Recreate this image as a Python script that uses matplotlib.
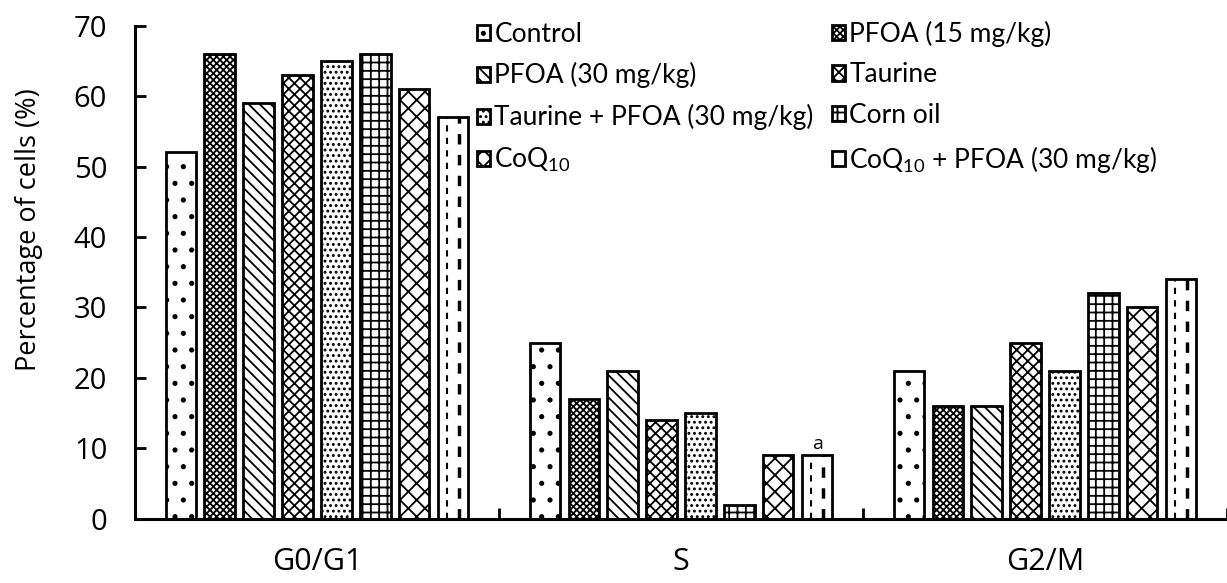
import matplotlib.pyplot as plt
import numpy as np

plt.rcParams['font.family'] = ['Open Sans', 'DejaVu Sans']
plt.rcParams['mathtext.default'] = 'regular'
plt.rcParams['hatch.linewidth'] = 1.3

phases = ['G0/G1', 'S', 'G2/M']
groups = ['Control', 'PFOA (15 mg/kg)', 'PFOA (30 mg/kg)', 'Taurine',
          'Taurine + PFOA (30 mg/kg)', 'Corn oil', 'CoQ$_{10}$',
          'CoQ$_{10}$ + PFOA (30 mg/kg)']
control = [52, 25, 21]
pfoa15 = [66, 17, 16]
pfoa30 = [59, 21, 16]
taurine = [63, 14, 25]
taurine_pfoa = [65, 15, 21]
corn_oil = [66, 2, 32]
coq10 = [61, 9, 30]
coq10_pfoa = [57, 9, 34]
series = [control, pfoa15, pfoa30, taurine, taurine_pfoa, corn_oil, coq10, coq10_pfoa]
hatches = ['.', 'xxxxx', '\\\\\\', 'xxx', '...', '++', 'xx', '']

fig = plt.figure(figsize=(12.27, 5.83), dpi=100)
ax = fig.add_axes([0.110, 0.110, 0.890, 0.846])

x = np.arange(len(phases))
step = 0.107
width = 0.083
bars = []
for i, (vals, h, name) in enumerate(zip(series, hatches, groups)):
    b = ax.bar(x + (i - 3.5) * step, vals, width, color='white', edgecolor='black',
               linewidth=2, hatch=h, label=name)
    bars.append(b)

# dashed vertical pattern for the last group
for rect in bars[-1]:
    x0, w, hgt = rect.get_x(), rect.get_width(), rect.get_height()
    for frac, lw in [(0.3, 1.5), (0.68, 2.5)]:
        ax.plot([x0 + frac * w] * 2, [0, hgt], color='black', lw=lw,
                linestyle=(0, (3, 3)), zorder=3)

# significance mark
ax.text(x[1] + 3.5 * step, coq10_pfoa[1] + 0.3, 'a', ha='center', va='bottom', fontsize=14)

ax.set_xlim(-0.5, 2.5)
ax.set_ylim(0, 70)
ax.set_yticks(range(0, 71, 10))
ax.set_xticks(x)
ax.set_xticklabels(phases)
ax.set_xticks([0.5, 1.5, 2.5], minor=True)
ax.tick_params(axis='y', direction='in', length=8, width=2, labelsize=21, pad=20)
ax.tick_params(axis='x', which='major', length=0, labelsize=22, pad=20)
ax.tick_params(axis='x', which='minor', direction='in', length=8, width=2)
ax.set_ylabel('Percentage of cells (%)', fontsize=19.5)
ax.yaxis.set_label_coords(-0.084, 0.587)
for s in ['top', 'right']:
    ax.spines[s].set_visible(False)
for s in ['left', 'bottom']:
    ax.spines[s].set_linewidth(2.2)

handles, labels = ax.get_legend_handles_labels()
order = [0, 2, 4, 6, 1, 3, 5, 7]
ax.legend([handles[k] for k in order], [labels[k] for k in order],
          ncol=2, loc='upper left', bbox_to_anchor=(0.389, 0.965),
          bbox_transform=fig.transFigure, frameon=False,
          handlelength=0.5, handleheight=0.5, handletextpad=0.15,
          columnspacing=0.7, labelspacing=0.6, borderpad=0, borderaxespad=0,
          prop={'family': 'Lato', 'size': 19})

fig.savefig('out.png', dpi=100)
